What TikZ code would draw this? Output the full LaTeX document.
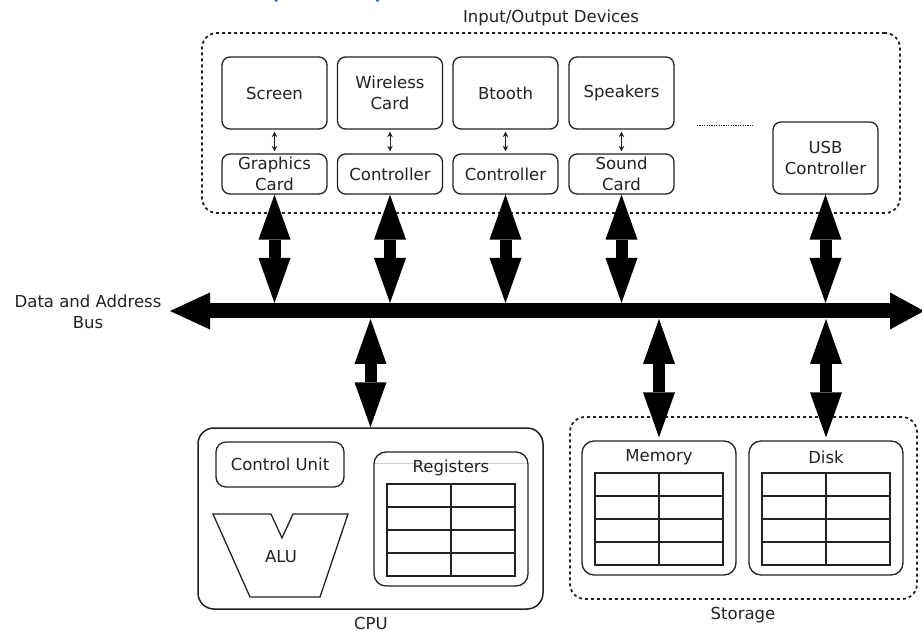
\documentclass[tikz,border=0pt]{standalone}
\usepackage{fontspec}
\setmainfont{DejaVu Sans}
\newfontfamily\titlefont{Carlito}
\usetikzlibrary{arrows.meta}
\definecolor{ink}{HTML}{222222}
\definecolor{titleblue}{RGB}{46,92,170}
\tikzset{
  lbl/.style={font=\fontsize{16.5}{21}\selectfont, text=ink, align=center, inner sep=0pt},
  box/.style={lbl, draw=ink, line width=1.3pt, rounded corners=8pt},
  devbox/.style={box, minimum width=105pt, minimum height=72pt},
  ctlbox/.style={box, minimum width=105pt, minimum height=40pt},
  groupbox/.style={draw=ink, line width=1.8pt, dash pattern=on 3pt off 3pt, rounded corners=15pt, inner sep=0pt},
  fatarrow/.style={line width=12pt, draw=black,
     {Triangle[length=45pt,width=32pt,line width=0pt]}-{Triangle[length=45pt,width=32pt,line width=0pt]}},
  busarrow/.style={line width=15pt, draw=black,
     {Triangle[length=40pt,width=37pt,line width=0pt]}-{Triangle[length=34pt,width=37pt,line width=0pt]}},
  thinarrow/.style={line width=1pt, draw=ink, shorten <=2pt, shorten >=2pt,
     {Stealth[length=5.5pt,width=5.5pt]}-{Stealth[length=5.5pt,width=5.5pt]}},
  tableline/.style={line width=1.3pt, draw=ink},
  regtable/.pic={
    \draw[tableline] (0,0) rectangle (128,92);
    \draw[tableline] (64,0) -- (64,92);
    \foreach \yy in {23,46,69} \draw[tableline] (0,\yy) -- (128,\yy);
  }
}
\begin{document}
\begin{tikzpicture}[x=1pt,y=-1pt]
\useasboundingbox (0,0) rectangle (922,631);
\fill[white] (0,0) rectangle (922,631);

% cropped title (only its descenders show)
\node[anchor=base west, font=\titlefont\fontsize{34.5}{40}\selectfont, text=titleblue, inner sep=0pt] (title) at (208,-3.5) {Computer System};

% I/O group
\node[groupbox, minimum width=698pt, minimum height=180pt] (io) at (551,123) {};
\node[lbl, anchor=base] (iolbl) at (551,23) {Input/Output Devices};

\node[devbox] (scr) at (274.5,93) {Screen};
\node[devbox] (wl)  at (390,93) {Wireless\\Card};
\node[devbox] (bt)  at (505.5,93) {Btooth};
\node[devbox] (spk) at (621.5,93) {Speakers};
\node[ctlbox] (gc)  at (274.5,174) {Graphics\\Card};
\node[ctlbox] (wlc) at (390,174) {Controller};
\node[ctlbox] (btc) at (505.5,174) {Controller};
\node[ctlbox] (sc)  at (621.5,174) {Sound\\Card};
\node[devbox] (usb) at (825.5,158) {USB\\Controller};

\draw[thinarrow] (scr.south) -- (gc.north);
\draw[thinarrow] (wl.south) -- (wlc.north);
\draw[thinarrow] (bt.south) -- (btc.north);
\draw[thinarrow] (spk.south) -- (sc.north);

\coordinate (dotA) at (697,126);
\coordinate (dotB) at (754,126);
\draw[ink, line width=1pt, dash pattern=on 1.2pt off 1.2pt] (dotA) -- (dotB);

% bus
\coordinate (busL) at (170,311);
\coordinate (busR) at (924,311);
\coordinate (bustop) at (0,303);
\coordinate (busbot) at (0,319);
\draw[busarrow] (busL) -- (busR);
\node[lbl] (buslbl) at (88,312) {Data and Address\\Bus};

\draw[fatarrow] (gc.south) -- (gc.south |- bustop);
\draw[fatarrow] (wlc.south) -- (wlc.south |- bustop);
\draw[fatarrow] (btc.south) -- (btc.south |- bustop);
\draw[fatarrow] (sc.south) -- (sc.south |- bustop);
\draw[fatarrow] (usb.south) -- (usb.south |- bustop);

% CPU
\node[box, rounded corners=16pt, line width=1.5pt, minimum width=345pt, minimum height=181pt] (cpu) at (370.5,518.5) {};
\node[lbl, anchor=base] (cpulbl) at (371,629) {CPU};
\node[box, rounded corners=10pt, minimum width=128pt, minimum height=45pt] (cu) at (280,464.5) {Control Unit};
\draw[ink, line width=1.3pt] (213,514) -- (271,514) -- (282,538) -- (293,514) -- (348,514) -- (320,597) -- (250,597) -- cycle;
\node[lbl] (alu) at (281,557) {ALU};
\node[box, rounded corners=12pt, minimum width=154pt, minimum height=134pt] (regs) at (451,519) {};
\draw[gray!40, line width=0.8pt] (375,463) -- (527,463);
\node[lbl] (regslbl) at (451,468) {Registers};
\pic at (387,484) {regtable};

% Storage
\node[groupbox, minimum width=347pt, minimum height=182pt] (stor) at (743.5,508) {};
\node[lbl, anchor=base] (storlbl) at (743,619) {Storage};
\node[box, rounded corners=12pt, minimum width=154pt, minimum height=134pt] (mem) at (659,508) {};
\node[lbl] (memlbl) at (659,457) {Memory};
\pic at (595,473) {regtable};
\node[box, rounded corners=12pt, minimum width=154pt, minimum height=134pt] (disk) at (826,508) {};
\node[lbl] (disklbl) at (826,457) {Disk};
\pic at (762,473) {regtable};

\draw[fatarrow] (cpu.north |- busbot) -- (cpu.north);
\draw[fatarrow] (mem.north |- busbot) -- ([yshift=3pt]mem.north);
\draw[fatarrow] (disk.north |- busbot) -- ([yshift=3pt]disk.north);
\end{tikzpicture}
\end{document}
